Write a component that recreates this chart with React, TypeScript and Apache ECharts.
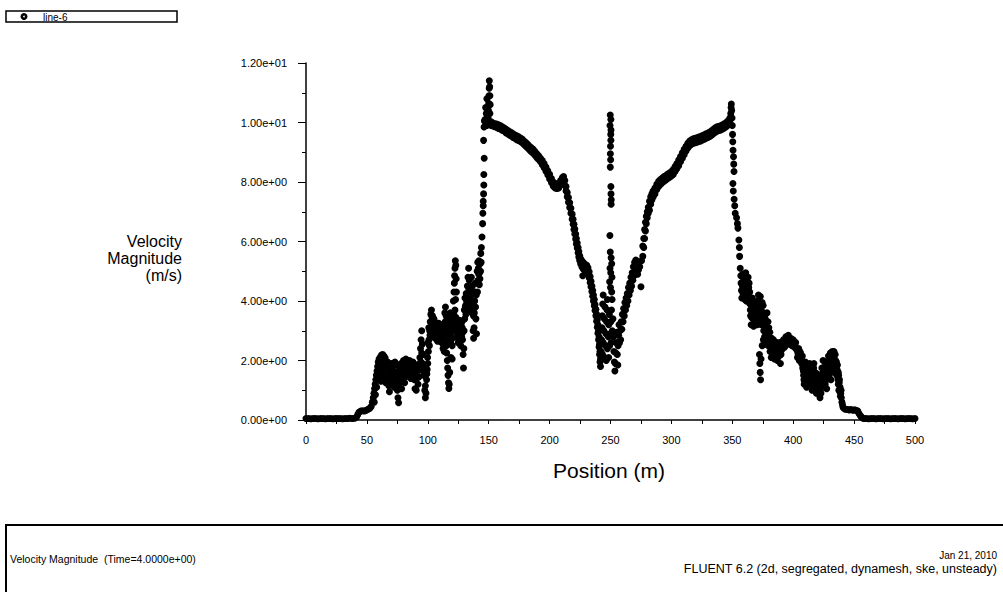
import React, { useEffect, useRef } from "react";
import * as echarts from "echarts";

// ---- data (Position m, Velocity magnitude m/s) ----
const flatLeft: number[][] = [
  [0, 0.05], [2, 0.05], [4, 0.04], [6, 0.05], [8, 0.05], [10, 0.04], [12, 0.05], [14, 0.05],
  [16, 0.04], [18, 0.05], [20, 0.05], [22, 0.04], [24, 0.05], [26, 0.05], [28, 0.05], [30, 0.04],
  [32, 0.05], [34, 0.05], [36, 0.06], [38, 0.05], [40, 0.06], [41.5, 0.1],
];

const riseLeft: number[][] = [
  [42.5, 0.18], [43.5, 0.26], [45, 0.3], [46.5, 0.31], [48, 0.3], [49.5, 0.33], [51, 0.36],
  [52.5, 0.4], [53.5, 0.45], [54.5, 0.6], [55.2, 0.75], [55.8, 0.9], [56.3, 1.05], [56.8, 1.2],
  [57.3, 1.35], [57.8, 1.5], [58.3, 1.65], [58.8, 1.8], [59.3, 1.95], [60, 2.05], [61, 2.12],
  [62, 2.18], [63, 2.2], [64, 2.15], [65, 2.08], [56, 0.6], [57, 0.85], [58, 1.1], [59, 1.4],
  [60, 1.6], [61, 1.75], [62, 1.9],
];

const cloudLeft: number[][] = [
  [60.5, 1.5], [61.5, 1.3], [62.5, 1.6], [63.5, 1.85], [64.5, 1.45], [65.5, 1.25], [66, 1.7],
  [67, 1.95], [67.5, 1.5], [68, 1.15], [68.5, 0.95], [69, 1.3], [70, 1.6], [70.5, 1.2], [71.5, 1.8],
  [72, 1.45], [72.5, 1.1], [73.5, 1.6], [74, 1.85], [74.5, 1.3], [75, 1.0], [75.5, 0.75], [76, 0.58],
  [76.5, 1.2], [77, 1.4], [77.5, 1.65], [78, 1.9], [78.5, 1.05], [79, 1.35], [79.5, 1.75], [80, 2.0],
  [80.5, 1.55], [81, 1.25], [81.5, 1.85], [82, 2.05], [82.5, 1.6], [83, 1.75], [83.5, 1.95],
  [84, 1.5], [84.5, 1.8], [85, 2.0], [85.5, 1.6], [86, 1.4], [86.5, 1.75], [87, 1.9], [87.5, 1.55],
  [88, 1.7], [88.5, 1.85], [89, 1.35], [89.5, 1.05], [90, 1.6], [90.5, 1.0], [91, 1.8], [91.5, 1.45],
  [92, 1.2], [92.5, 1.7], [93, 1.9], [93.5, 2.1], [94, 2.4], [94.5, 2.7], [95, 3.0], [95.5, 2.55],
  [96, 2.2], [95, 2.25], [94.5, 1.95], [96.5, 1.85], [97, 1.5], [97.5, 1.0], [98, 0.75], [98.5, 0.9],
  [99, 1.35], [99.5, 1.7], [100, 1.9], [98, 1.15], [100.5, 2.3], [101, 2.7], [101.5, 3.0],
  [102, 3.3], [102.5, 3.55], [103, 3.7], [103.5, 3.45], [104, 3.15], [104.5, 2.9], [105, 3.4],
  [105.5, 3.1], [106, 2.75], [106.5, 3.0], [107, 3.2], [107.5, 2.8], [108, 2.65], [108.5, 3.05],
  [109, 3.25], [109.5, 2.9], [110, 2.7], [110.5, 3.1], [111, 2.85], [111.5, 2.6], [112, 3.0],
  [112.5, 2.4], [113, 2.7], [113.5, 2.3], [114, 3.6], [114.5, 3.8], [115, 3.5], [115.2, 2.5],
  [115.5, 2.25], [116, 2.0], [116.3, 1.75], [116.6, 1.5], [117, 1.25], [117.3, 1.06], [117.6, 1.2],
  [118, 1.6], [116.8, 2.9], [117.5, 3.2], [118.5, 3.6], [119, 3.2], [119.5, 2.8], [120, 2.5],
  [120.5, 3.05], [119, 2.1], [120, 2.05], [121, 4.0], [121.5, 4.3], [121.8, 4.6], [122, 4.85],
  [122.3, 5.1], [122.6, 5.35], [123, 5.2], [123.3, 4.75], [123.5, 4.3], [122.8, 4.05], [124, 3.3],
  [124.5, 2.9], [125, 2.6], [125.5, 3.1], [126, 3.35], [126.5, 2.85], [127, 2.5], [127.5, 3.0],
  [128, 3.3], [128.5, 2.7], [129, 2.2], [129.3, 1.75], [129.6, 2.4], [130, 3.7], [130.5, 4.1],
  [131, 3.85], [131.5, 4.25], [132, 3.65], [132.5, 4.5], [133, 4.8], [133.5, 5.1], [134, 4.7],
  [134.4, 4.2], [134.8, 3.8], [135.3, 4.4], [135.8, 4.8], [136.3, 3.6], [136.8, 4.3], [137.2, 3.0],
  [137.6, 2.75], [138, 3.1], [138.5, 4.0], [139, 4.6], [139.5, 3.4], [140, 2.9], [140.5, 5.0],
  [141, 5.3], [141.5, 5.1], [142, 5.35], [142.5, 4.95], [143, 5.25], [143.5, 5.6],
];

const cloudLeftCore: number[][] = [
  [60.8, 1.9], [61.8, 1.6], [62.8, 1.95], [63.3, 1.35], [64, 1.7], [65, 1.9], [66.5, 1.45],
  [67.2, 1.75], [68.3, 1.4], [69.5, 1.75], [70.2, 1.9], [71, 1.4], [71.8, 1.55], [73, 1.3], [73, 1.95],
  [74.8, 1.6], [75.8, 1.45], [76.8, 1.7], [77.8, 1.3], [78.8, 1.6], [79.8, 1.45], [80.8, 1.8],
  [81.8, 1.45], [82.8, 1.9], [83.8, 1.7], [84.8, 1.55], [85.8, 1.85], [86.8, 1.55], [87.8, 1.95],
  [88.8, 1.6], [89.8, 1.8], [90.8, 1.4], [91.8, 1.65], [92.8, 1.45], [93.3, 1.7], [94, 1.8],
  [95.5, 1.9], [96.8, 1.6], [97.8, 1.8], [99.2, 1.55], [99.8, 2.1], [100.2, 2.6], [100.8, 3.1],
  [101.3, 2.5], [101.8, 2.85], [102.3, 3.1], [102.8, 3.3], [103.3, 2.95], [103.8, 3.5], [104.3, 3.3],
  [104.8, 3.05], [105.3, 2.85], [105.8, 3.3], [106.3, 2.8], [106.8, 3.1], [107.3, 2.95],
  [107.8, 3.15], [108.3, 2.85], [108.8, 2.7], [109.3, 3.05], [109.8, 3.15], [110.3, 2.85],
  [110.8, 2.95], [111.3, 3.2], [111.8, 2.75], [112.3, 2.9], [112.8, 2.55], [113.3, 2.85],
  [113.8, 2.5], [114.3, 3.3], [114.8, 3.1], [115.6, 3.35], [116.2, 3.05], [117.2, 2.7], [117.8, 2.95],
  [118.2, 3.35], [118.8, 2.6], [119.3, 3.45], [119.8, 3.0], [120.3, 2.75], [120.8, 3.3], [121.3, 3.6],
  [121.6, 3.1], [122.3, 3.7], [123, 3.45], [123.8, 2.95], [124.3, 3.15], [124.8, 2.75], [125.3, 2.85],
  [125.8, 3.25], [126.3, 3.05], [126.8, 2.7], [127.3, 3.2], [127.8, 2.8], [128.3, 3.1], [128.8, 2.95],
  [129.8, 3.0], [130.3, 3.4], [130.8, 3.8], [131.3, 3.55], [131.8, 4.0], [132.3, 3.85], [132.8, 4.2],
  [133.3, 3.9], [133.8, 4.4], [134.2, 3.95], [135, 4.1], [135.5, 3.7], [136, 4.2], [136.5, 4.5],
  [137, 3.9], [137.5, 3.5], [138.2, 3.6], [138.8, 4.3], [139.2, 3.8], [139.8, 4.2], [140.3, 4.6],
  [140.8, 4.3], [141.3, 4.7], [141.8, 4.9], [142.3, 4.55], [142.8, 4.75], [143.3, 5.0], [143.8, 5.3],
];

const peakLeft: number[][] = [
  [144, 5.8], [144.5, 6.15], [145, 6.6], [145.2, 6.95], [145.5, 7.2], [145.5, 7.35], [145.8, 7.6],
  [146, 7.9], [146, 8.25], [146.3, 8.8], [145.8, 9.4], [146.2, 9.85], [146.5, 10.05],
  [149.5, 10.15], [149.8, 10.4], [150, 10.65], [150.2, 10.9], [150.4, 11.15], [150.5, 11.4],
  [150.8, 11.2], [151, 10.9], [151.2, 10.6], [151, 10.3], [149.2, 10.0], [148.5, 9.9], [148, 9.95],
  [147, 10.1], [147.5, 10.5], [148, 10.3], [148.5, 10.8], [149, 10.2], [151.3, 9.95],
];

const slopeLeft: number[][] = [
  [152, 10.02], [152, 9.9], [153.5, 9.98], [153.5, 9.88], [155, 9.96], [155, 9.86], [156.5, 9.95],
  [156.5, 9.84], [158, 9.92], [158, 9.8], [159.5, 9.9], [159.5, 9.78], [161, 9.86], [161, 9.74],
  [162.5, 9.82], [162.5, 9.72], [164, 9.78], [164, 9.66], [165.5, 9.74], [165.5, 9.62], [167, 9.7],
  [167, 9.58], [168.5, 9.66], [168.5, 9.55], [170, 9.62], [170, 9.5], [171.5, 9.58], [171.5, 9.47],
  [173, 9.55], [173, 9.42], [174.5, 9.52], [174.5, 9.4], [176, 9.48], [176, 9.36], [177.5, 9.44],
  [177.5, 9.32], [179, 9.38], [179, 9.26], [180.5, 9.33], [180.5, 9.2], [182, 9.27], [182, 9.14],
  [183.5, 9.2], [183.5, 9.08], [185, 9.15], [185, 9.02], [186.5, 9.1], [186.5, 8.97], [188, 9.02],
  [188, 8.9], [189.5, 8.95], [189.5, 8.82], [191, 8.88], [191, 8.76], [192.5, 8.8], [192.5, 8.68],
  [194, 8.72], [194, 8.58], [195.5, 8.62], [195.5, 8.48], [197, 8.5], [197, 8.36], [198.5, 8.38],
  [198.5, 8.24], [200, 8.26], [200, 8.1], [201.5, 8.12], [201.5, 7.98], [203, 8.0], [203, 7.86],
  [204.5, 7.95], [204.5, 7.8], [206, 7.92], [206, 7.78], [207.5, 7.95], [207.5, 7.8], [209, 8.05],
  [209, 7.9], [210.5, 8.15], [210.5, 8.0], [211.5, 8.18], [211.5, 8.02], [212.5, 8.05], [212.5, 7.88],
  [213.5, 7.85], [213.5, 7.7], [214.5, 7.65], [214.5, 7.5], [215.5, 7.48], [215.5, 7.32],
  [216.5, 7.3], [216.5, 7.14], [217.5, 7.12], [217.5, 6.95], [218.5, 6.92], [218.5, 6.75],
  [219.3, 6.75], [219.3, 6.58], [220, 6.58], [220, 6.4], [220.7, 6.42], [220.7, 6.25], [221.4, 6.25],
  [221.4, 6.08], [222, 6.1], [222, 5.92], [222.7, 5.95], [222.7, 5.78], [223.4, 5.8], [223.4, 5.62],
  [224, 5.66], [224, 5.48], [224.7, 5.52], [224.7, 5.36], [225.5, 5.42], [225.5, 5.25], [226.5, 5.35],
  [226.5, 5.15], [227.5, 5.3], [227.5, 5.08], [227.2, 4.85], [228.5, 5.25], [228.5, 5.05],
  [229.5, 5.22], [229.5, 5.0], [230.5, 5.2], [230.5, 4.98], [231.5, 5.12], [231.5, 4.9],
  [232.5, 4.98], [232.5, 4.78], [233.3, 4.82], [233.3, 4.62], [234, 4.66], [234, 4.48], [234.7, 4.5],
  [234.7, 4.32], [235.4, 4.35], [235.4, 4.16], [236, 4.2], [236, 4.0], [236.7, 4.05], [236.7, 3.84],
  [237.3, 3.88], [237.3, 3.68], [238, 3.72], [238, 3.5], [238.6, 3.55], [238.6, 3.32], [239.2, 3.38],
  [239.2, 3.12], [239.7, 3.2], [239.7, 2.92], [240.2, 3.0], [240.2, 2.7], [240.6, 2.8], [240.6, 2.45],
  [241, 2.55], [241, 2.2], [241.4, 2.3], [241.4, 1.95], [241.8, 2.05], [241.8, 1.8],
];

const dipCenter: number[][] = [
  [242.3, 2.3], [242.6, 2.7], [243, 3.1], [243.3, 3.5], [243.6, 3.9], [244, 4.2], [243.5, 2.2],
  [244, 2.6], [244.5, 3.0], [245, 3.4], [245.5, 3.8], [245, 2.1], [245.8, 2.5], [246.3, 2.9],
  [246.8, 3.3], [247.2, 3.7], [247.5, 4.05], [246.5, 2.0], [247.5, 2.4], [248.2, 2.8], [248.6, 3.2],
  [249, 3.55], [248.5, 2.1], [249.3, 2.5], [249.8, 2.9], [250.3, 3.3], [250.8, 3.7], [251.3, 4.05],
  [250.5, 2.6], [251.5, 3.0], [252, 3.4], [252.5, 2.8], [252.8, 2.3], [253.2, 1.95], [253.6, 1.65],
  [254, 1.9], [254.4, 2.25], [254.8, 2.6], [255.2, 2.95], [255.6, 2.2], [256, 1.85], [256.2, 2.5],
  [256.6, 2.85], [257, 3.2], [257.4, 2.6], [257.8, 3.0], [258.3, 2.7], [258.8, 3.3], [259.3, 3.05],
  [259.8, 3.55], [260.3, 3.3], [260.8, 3.75], [261.3, 3.5], [261.8, 3.95], [262.3, 3.7], [262.8, 4.1],
  [263.3, 3.85], [263.8, 4.25], [264.3, 4.0], [264.8, 4.45], [265.3, 4.2], [265.8, 4.6],
  [266.3, 4.35], [266.8, 4.8], [267.3, 4.5], [267.8, 4.95], [268.3, 4.7], [268.8, 5.15],
  [269.3, 4.85], [269.8, 5.3], [270.3, 4.95], [270.8, 5.38], [271.3, 5.0], [271.8, 5.3], [272.3, 4.9],
];

const spikeCenter: number[][] = [
  [249.8, 10.25], [250.3, 10.1], [249.6, 9.9], [250.4, 9.75], [250.2, 9.6], [250.3, 9.4], [250, 9.2],
  [249.9, 8.95], [250.1, 8.75], [249.8, 8.5], [250.3, 7.85], [250.4, 7.6], [250.6, 7.4],
  [250.5, 7.25], [249.5, 6.2], [249.8, 5.65], [250.5, 5.45], [251, 5.25], [249.6, 5.1],
  [250.2, 4.95], [251.2, 4.8], [249.3, 4.65], [250, 4.45], [251, 4.3],
];

const slopeRight: number[][] = [
  [273, 5.05], [273, 5.3], [274, 5.15], [275, 4.48], [275.5, 5.35], [276.5, 5.5], [276.5, 5.85],
  [277.3, 5.8], [277.3, 6.1], [278, 6.1], [278, 6.4], [278.7, 6.35], [278.7, 6.65], [279.4, 6.6],
  [279.4, 6.85], [280.2, 6.8], [280.2, 7.0], [281, 6.95], [281, 7.15], [282, 7.05], [282, 7.35],
  [283, 7.25], [283, 7.5], [284, 7.4], [284, 7.6], [285, 7.5], [285, 7.7], [286.5, 7.6], [286.5, 7.8],
  [288, 7.75], [288, 7.92], [289.5, 7.85], [289.5, 8.02], [291, 7.92], [291, 8.08], [292.5, 7.98],
  [292.5, 8.13], [294, 8.03], [294, 8.18], [295.5, 8.07], [295.5, 8.22], [297, 8.12], [297, 8.27],
  [298.5, 8.16], [298.5, 8.3], [300, 8.2], [300, 8.35], [301.5, 8.25], [301.5, 8.42], [303, 8.35],
  [303, 8.52], [304.5, 8.45], [304.5, 8.62], [306, 8.55], [306, 8.74], [307.5, 8.68], [307.5, 8.86],
  [309, 8.8], [309, 8.98], [310.5, 8.92], [310.5, 9.1], [312, 9.04], [312, 9.2], [313.5, 9.14],
  [313.5, 9.3], [315, 9.22], [315, 9.38], [316.5, 9.27], [316.5, 9.42], [318, 9.3], [318, 9.45],
  [319.5, 9.32], [319.5, 9.47], [321, 9.34], [321, 9.49], [322.5, 9.36], [322.5, 9.51], [324, 9.38],
  [324, 9.53], [325.5, 9.41], [325.5, 9.56], [327, 9.44], [327, 9.59], [328.5, 9.47], [328.5, 9.62],
  [330, 9.5], [330, 9.65], [331.5, 9.53], [331.5, 9.68], [333, 9.57], [333, 9.72], [334.5, 9.62],
  [334.5, 9.77], [336, 9.67], [336, 9.82], [337.5, 9.71], [337.5, 9.86], [339, 9.73], [339, 9.87],
  [340.5, 9.75], [340.5, 9.89], [342, 9.78], [342, 9.92], [343.5, 9.82], [343.5, 9.96], [345, 9.86],
  [345, 10.0], [346.5, 9.92], [346.5, 10.06], [348, 9.98], [348, 10.15],
];

const peakRight: number[][] = [
  [348.7, 10.3], [349, 10.5], [349.2, 10.62], [349.5, 10.4], [349.8, 10.15], [350, 9.9],
  [350.2, 9.6], [350.4, 9.35], [350.6, 9.07], [351, 8.85], [351.2, 8.6], [351.4, 8.35],
  [350.5, 7.95], [350.8, 7.7], [351.5, 7.42], [352, 7.2], [352.4, 6.95], [353.5, 6.8], [354.2, 6.6],
  [354.6, 6.45], [355.4, 6.05], [355.8, 5.8], [356, 5.5], [356.5, 5.1], [357, 4.85], [357.2, 4.6],
  [357.5, 4.35], [357.8, 4.1],
];

const cloudRight: number[][] = [
  [358.5, 4.9], [359, 4.5], [359.5, 4.1], [360, 4.7], [360.5, 4.3], [361, 4.95], [361.5, 4.0],
  [362, 4.55], [362.5, 4.2], [363, 4.8], [363.5, 4.45], [364, 4.1], [364.5, 3.9], [365, 3.5],
  [365.5, 3.2], [366, 3.7], [366.5, 4.1], [367, 3.4], [367.5, 3.15], [368, 3.8], [368.5, 3.55],
  [369, 3.3], [370, 3.7], [370.8, 4.0], [371.5, 4.2], [372, 3.9], [372.5, 3.55], [373, 4.15],
  [373.5, 3.8], [374, 3.45], [374.5, 3.95], [375, 3.6], [372.3, 2.2], [372.6, 1.9], [372.9, 1.6],
  [373.2, 1.35], [373.6, 2.05], [374.5, 2.5], [375.5, 2.7], [376, 3.2], [376.5, 2.8], [377, 3.4],
  [377.5, 2.55], [378, 3.0], [378.5, 3.6], [379, 2.8], [379.5, 2.5], [380, 3.1], [380.5, 2.7],
  [381, 2.3], [381.5, 2.55], [382, 2.1], [382.5, 2.4], [383, 2.6], [383.5, 2.2], [384, 2.45],
  [384.5, 2.05], [385, 2.35], [385.5, 2.6], [386, 2.2], [386.5, 2.45], [387, 2.0], [387.5, 2.3],
  [388, 2.55], [388.5, 2.15], [389, 2.4], [389.5, 1.9], [390, 2.2], [391, 2.5], [392, 2.7],
  [393, 2.45], [394, 2.8], [395, 2.6], [396, 2.85], [397, 2.55], [398, 2.75], [399, 2.5], [400, 2.7],
  [401, 2.45], [402, 2.6], [403, 2.35], [403.5, 2.1], [404.5, 2.4], [405, 2.0], [406, 2.25],
  [406.5, 1.95], [407.5, 2.15], [408, 1.85], [408.5, 1.5], [409, 1.2], [409.5, 1.7], [410, 1.95],
  [410.5, 1.35], [411, 1.1], [411.5, 1.6], [412, 1.85], [412.5, 1.3], [413, 1.55], [413.5, 1.9],
  [414, 1.2], [414.5, 1.45], [415, 1.75], [415.5, 1.0], [416, 1.3], [416.5, 1.6], [417, 1.9],
  [417.5, 1.45], [418, 1.1], [418.5, 1.35], [419, 0.9], [419.5, 1.55], [420, 1.2], [420.5, 0.95],
  [421, 1.4], [421.5, 0.85], [422, 0.75], [422.5, 1.1], [423, 1.5], [423.5, 1.75], [424, 1.3],
  [424.5, 2.0], [425, 1.55], [425.5, 1.15], [426, 1.8], [426.5, 1.4], [427, 1.95], [427.5, 1.05],
  [428, 1.6], [428.5, 1.9], [429, 2.15], [429.5, 1.5], [430, 1.8], [430.5, 2.25], [431, 1.35],
  [431.5, 2.0], [432, 2.3], [432.5, 1.7], [433, 2.1], [433.5, 2.3], [434, 1.9], [434.5, 2.2],
  [435, 1.55], [435.5, 1.95], [436, 1.7], [436.5, 1.45], [437, 1.2], [437.5, 1.0], [437, 1.6],
  [438, 1.35], [438.5, 1.1], [439, 0.9], [439.5, 0.75], [440, 0.6], [440.5, 0.5], [441, 0.42],
  [442, 0.38],
];

const cloudRightCore: number[][] = [
  [358.3, 4.5], [358.8, 4.25], [359.3, 4.75], [359.8, 4.4], [360.3, 4.05], [360.8, 4.55],
  [361.3, 4.3], [361.8, 4.7], [362.3, 4.0], [362.8, 4.4], [363.3, 4.15], [363.8, 4.6], [364.3, 4.3],
  [364.8, 3.7], [365.3, 4.0], [365.8, 3.45], [366.3, 3.9], [366.8, 3.6], [367.3, 3.85], [367.8, 3.4],
  [368.3, 3.9], [368.8, 3.2], [369.3, 3.6], [369.8, 3.4], [370.3, 3.9], [370.5, 3.2], [371, 3.55],
  [371.3, 3.85], [371.8, 3.4], [372.3, 3.7], [372.8, 3.3], [373.3, 3.6], [373.8, 3.2], [374.3, 3.65],
  [374.8, 3.3], [375.3, 3.85], [375.8, 3.0], [376.3, 3.5], [376.8, 3.05], [377.3, 3.2], [377.8, 2.85],
  [378.3, 3.3], [378.8, 3.1], [379.3, 3.3], [379.8, 2.9], [380.3, 2.55], [380.8, 2.95], [381.3, 2.75],
  [381.8, 2.45], [382.3, 2.75], [382.8, 2.3], [383.3, 2.5], [383.8, 2.7], [384.3, 2.25], [384.8, 2.55],
  [385.3, 2.15], [385.8, 2.4], [386.3, 2.6], [386.8, 2.3], [387.3, 2.5], [387.8, 2.2], [388.3, 2.4],
  [388.8, 2.6], [389.3, 2.2], [389.8, 2.45], [390.5, 2.35], [391.5, 2.6], [392.5, 2.5], [393.5, 2.7],
  [394.5, 2.55], [395.5, 2.75], [396.5, 2.6], [397.5, 2.7], [398.5, 2.55], [399.5, 2.65],
  [400.5, 2.5], [401.5, 2.6], [402.5, 2.4], [403.8, 2.25], [404.2, 2.15], [405.5, 2.3], [406.8, 2.1],
  [407, 1.9], [407.8, 1.75], [408.3, 1.65], [408.8, 1.35], [409.3, 1.5], [409.8, 1.25], [410.3, 1.7],
  [410.8, 1.5], [411.3, 1.35], [411.8, 1.25], [412.3, 1.6], [412.8, 1.75], [413.3, 1.4], [413.8, 1.65],
  [414.3, 1.8], [414.8, 1.3], [415.3, 1.55], [415.8, 1.2], [416.3, 1.45], [416.8, 1.75], [417.3, 1.25],
  [417.8, 1.6], [418.3, 1.2], [418.8, 1.5], [419.3, 1.1], [419.8, 1.35], [420.3, 1.05], [420.8, 1.3],
  [421.3, 1.15], [421.8, 1.0], [422.3, 1.3], [422.8, 0.9], [423.3, 1.25], [423.8, 1.55], [424.3, 1.1],
  [424.8, 1.7], [425.3, 1.35], [425.8, 1.6], [426.3, 1.2], [426.8, 1.65], [427.3, 1.35], [427.8, 1.8],
  [428.3, 1.4], [428.8, 1.65], [429.3, 1.85], [429.8, 2.05], [430.3, 1.6], [430.8, 1.9], [431.3, 1.65],
  [431.8, 2.15], [432.3, 1.9], [432.8, 2.2], [433.3, 1.85], [433.8, 2.05], [434.3, 1.75], [434.8, 2.0],
  [435.3, 1.8], [435.8, 1.6], [436.3, 1.85], [436.8, 1.35], [437.3, 1.5], [437.8, 1.25], [438.3, 0.95],
  [438.8, 0.8], [439.3, 1.0],
];

const flatRight: number[][] = [
  [443, 0.36], [444.5, 0.35], [446, 0.34], [447.5, 0.35], [449, 0.33], [450.5, 0.34], [452, 0.32],
  [453, 0.3], [454, 0.22], [455, 0.15], [456, 0.1], [457, 0.07], [458, 0.05], [460, 0.05],
  [462, 0.04], [464, 0.05], [466, 0.05], [468, 0.04], [470, 0.05], [472, 0.05], [474, 0.04],
  [476, 0.05], [478, 0.05], [480, 0.04], [482, 0.05], [484, 0.05], [486, 0.04], [488, 0.05],
  [490, 0.05], [492, 0.04], [494, 0.05], [496, 0.05], [498, 0.04], [500, 0.05],
];

const seriesName = "line-6";
const xTitle = "Position (m)";
const yTitle = "Velocity\nMagnitude\n(m/s)";
const footerLeft = "Velocity Magnitude  (Time=4.0000e+00)";
const footerDate = "Jan 21, 2010";
const footerSolver = "FLUENT 6.2 (2d, segregated, dynamesh, ske, unsteady)";

const fmtExp = (v: number) => {
  const s = v.toExponential(2);
  const [m, e] = s.split("e");
  const sign = e[0] === "-" ? "-" : "+";
  const d = e.replace(/^[+-]/, "").padStart(2, "0");
  return `${m}e${sign}${d}`;
};

export default function App() {
  const ref = useRef<HTMLDivElement>(null);
  useEffect(() => {
    const chart = echarts.init(ref.current!, null, { renderer: "svg" });
    const allPoints = [
      ...flatLeft, ...riseLeft, ...cloudLeft, ...cloudLeftCore, ...peakLeft, ...slopeLeft,
      ...dipCenter, ...spikeCenter, ...slopeRight, ...peakRight, ...cloudRight, ...cloudRightCore,
      ...flatRight,
    ];
    const black = "#000";
    const sans = "Liberation Sans, Arial, sans-serif";
    const tickFont = { fontFamily: sans, fontSize: 11, color: black };
    chart.setOption({
      animation: false,
      backgroundColor: "#fff",
      grid: { left: 306, right: 88, top: 63, bottom: 172, containLabel: false },
      xAxis: {
        type: "value",
        min: 0,
        max: 500,
        interval: 50,
        axisLine: { show: true, onZero: false, lineStyle: { color: black, width: 1.5 } },
        axisTick: { show: true, length: 4, lineStyle: { color: black, width: 1 } },
        minorTick: { show: true, splitNumber: 2, length: 4, lineStyle: { color: black, width: 1 } },
        splitLine: { show: false },
        minorSplitLine: { show: false },
        axisLabel: { ...tickFont, margin: 14 },
      },
      yAxis: {
        type: "value",
        min: 0,
        max: 12,
        interval: 2,
        axisLine: { show: true, lineStyle: { color: black, width: 1.5 } },
        axisTick: { show: true, length: 8, lineStyle: { color: black, width: 1 } },
        minorTick: { show: true, splitNumber: 2, length: 4, lineStyle: { color: black, width: 1 } },
        splitLine: { show: false },
        minorSplitLine: { show: false },
        axisLabel: { ...tickFont, margin: 19, formatter: (v: number) => fmtExp(v) },
      },
      series: [
        {
          name: seriesName,
          type: "scatter",
          data: allPoints,
          symbol: "circle",
          symbolSize: 7,
          itemStyle: { color: black, opacity: 1 },
          emphasis: { disabled: true },
        },
      ],
      graphic: [
        {
          type: "rect",
          shape: { x: 6, y: 11, width: 171, height: 11 },
          style: { fill: "#fff", stroke: black, lineWidth: 1.5 },
        },
        { type: "circle", shape: { cx: 24, cy: 16.5, r: 3.5 }, style: { fill: black } },
        { type: "circle", shape: { cx: 24, cy: 16.5, r: 0.8 }, style: { fill: "#fff" } },
        {
          type: "text",
          x: 43,
          y: 17,
          style: {
            text: seriesName,
            fill: black,
            fontFamily: sans,
            fontSize: 10,
            verticalAlign: "middle",
          },
        },
        {
          type: "text",
          x: 182,
          y: 258,
          style: {
            text: yTitle,
            fill: black,
            fontFamily: sans,
            fontSize: 16,
            lineHeight: 17,
            align: "right",
            verticalAlign: "middle",
          },
        },
        {
          type: "text",
          x: 609,
          y: 470,
          style: {
            text: xTitle,
            fill: black,
            fontFamily: sans,
            fontSize: 21,
            align: "center",
            verticalAlign: "middle",
          },
        },
        {
          type: "rect",
          shape: { x: 6, y: 525, width: 1010, height: 80 },
          style: { fill: "none", stroke: black, lineWidth: 2 },
        },
        {
          type: "text",
          x: 10,
          y: 559,
          style: {
            text: footerLeft,
            fill: black,
            fontFamily: sans,
            fontSize: 10.5,
            verticalAlign: "middle",
          },
        },
        {
          type: "text",
          x: 997,
          y: 555,
          style: {
            text: footerDate,
            fill: black,
            fontFamily: sans,
            fontSize: 10,
            align: "right",
            verticalAlign: "middle",
          },
        },
        {
          type: "text",
          x: 997,
          y: 569,
          style: {
            text: footerSolver,
            fill: black,
            fontFamily: sans,
            fontSize: 12.5,
            align: "right",
            verticalAlign: "middle",
          },
        },
      ],
    });
    return () => chart.dispose();
  }, []);
  return (
    <div
      ref={ref}
      style={{ position: "fixed", left: 0, top: 0, width: 1003, height: 592, background: "#fff" }}
    />
  );
}
